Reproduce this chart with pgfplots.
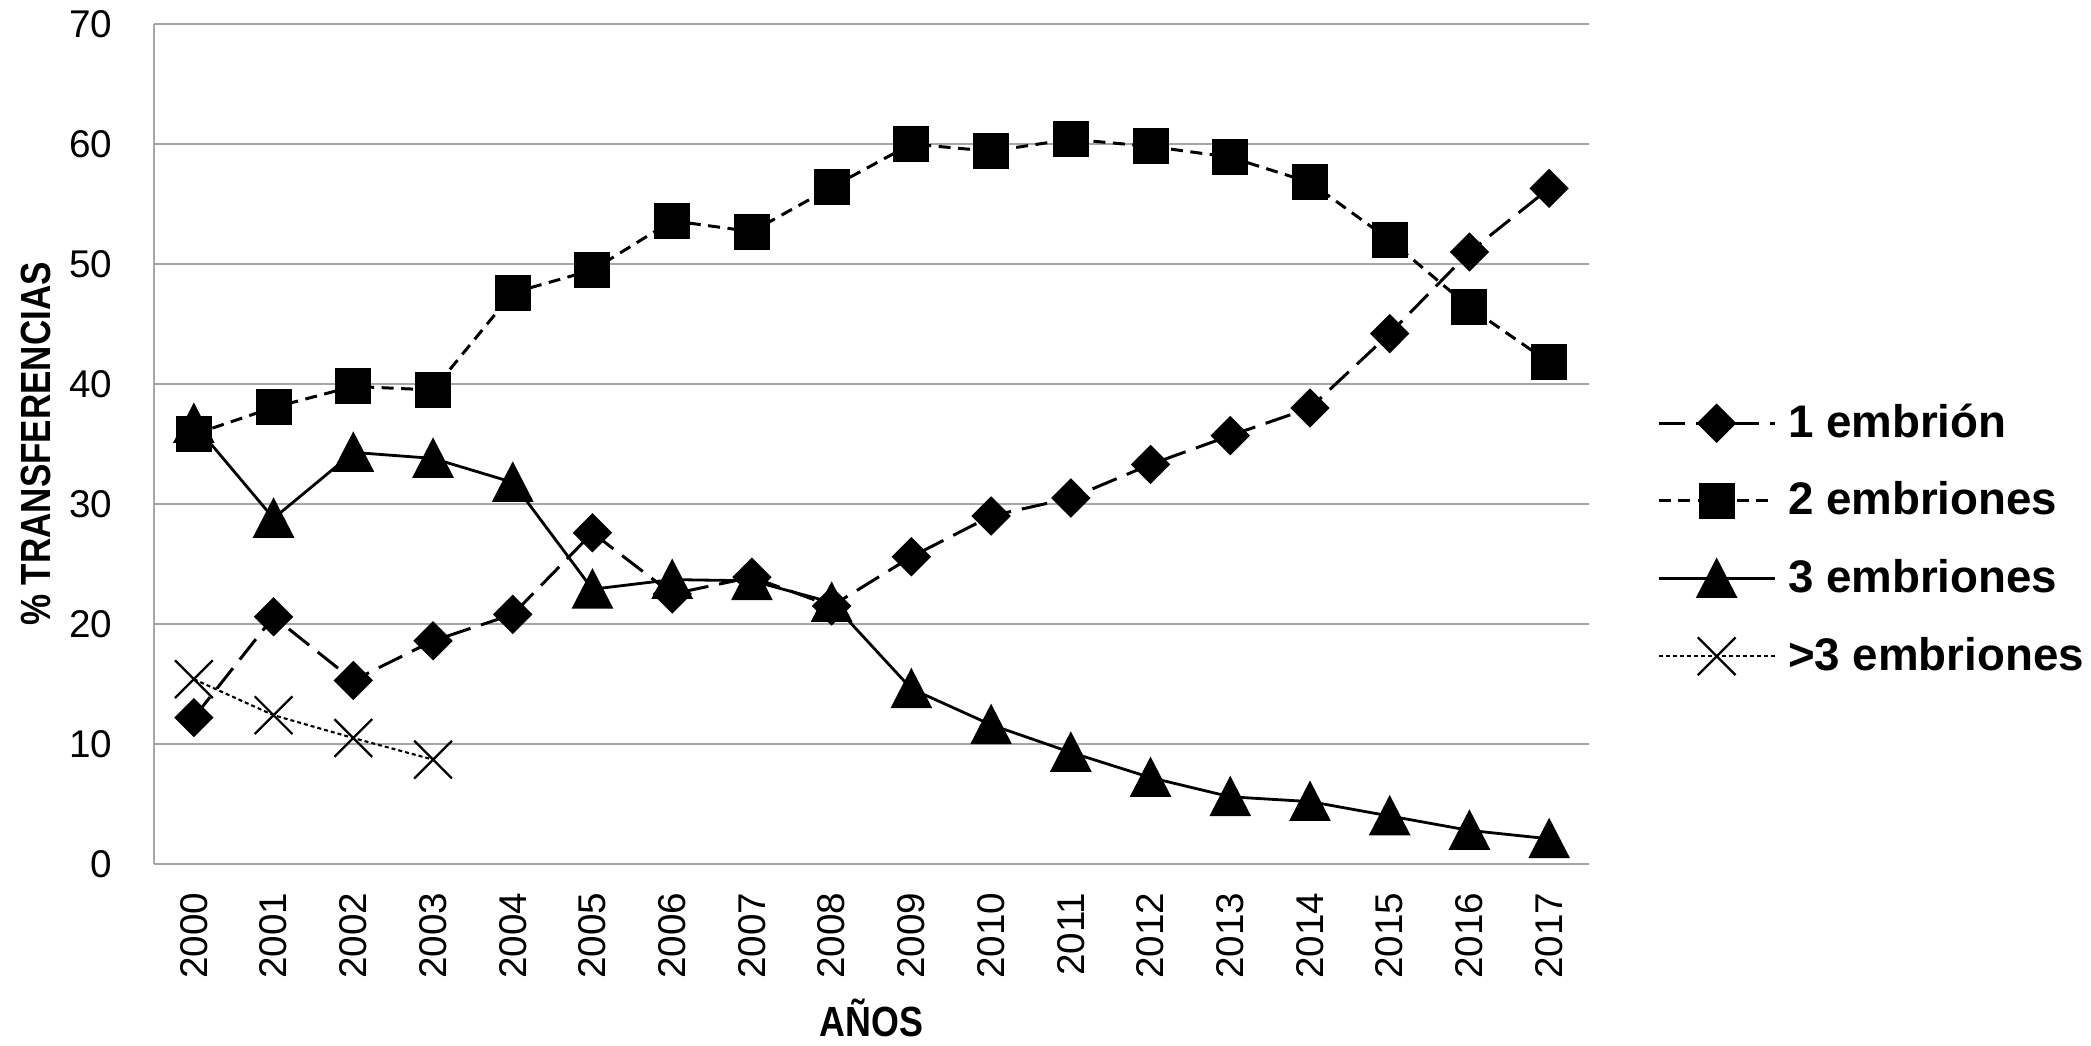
\documentclass[border=0pt]{standalone}
\usepackage{fontspec}
\setmainfont{Liberation Sans}
\usepackage{graphicx}
\usepackage{pgfplots}
\pgfplotsset{compat=1.18}
\definecolor{gridgray}{RGB}{166,166,166}
\begin{document}
\begin{tikzpicture}
\useasboundingbox (-15.4mm,-18.1mm) rectangle (193.7mm,86.4mm);
\begin{axis}[
  at={(0,0)}, anchor=south west,
  scale only axis, width=143.5mm, height=84.0mm,
  xmin=1999.5, xmax=2017.5, ymin=0, ymax=70,
  xtick={2000,...,2017}, ytick={0,10,...,70},
  axis x line*=bottom, axis y line*=left,
  axis line style={draw=gridgray, line width=0.6pt, -},
  ymajorgrids, grid style={draw=gridgray, line width=0.6pt},
  major tick length=0pt,
  clip=false,
  /pgf/number format/assume math mode=true,
  /pgf/number format/1000 sep={},
  ticklabel style={font=\fontsize{11}{13}\selectfont, inner sep=0pt},
  xticklabel style={rotate=90, anchor=east},
  xticklabel shift=2.8mm,
  yticklabel shift=4.1mm,
  xlabel={\scalebox{0.85}[1]{AÑOS}},
  ylabel={\scalebox{0.83}[1]{\% TRANSFERENCIAS}},
  every axis x label/.style={at={(axis description cs:0.5,-0.183)}, anchor=center, inner sep=0pt, font=\fontsize{12}{14}\selectfont\bfseries},
  every axis y label/.style={at={(axis description cs:-0.082,0.5)}, rotate=90, anchor=center, inner sep=0pt, font=\fontsize{12}{14}\selectfont\bfseries},
  legend cell align=left,
  legend style={at={(axis description cs:1.047,0.386)}, anchor=west, draw=none, fill=none, inner sep=0pt,
    font=\fontsize{13}{15}\selectfont\bfseries, row sep=8.1pt,
    nodes={inner sep=0pt, text height=11pt, text depth=3pt},
    /tikz/every odd column/.style={column sep=1.2mm}},
  legend image code/.code={\draw[mark repeat=2, mark phase=2, #1] plot coordinates {(0mm,0mm) (5.8mm,0mm) (11.6mm,0mm)};},
]
\addplot[black, line width=0.85pt, dash pattern=on 2.6mm off 1.1mm, mark=diamond*, mark size=5pt, mark options={solid, xscale=1.333}] coordinates {
(2000,12.2) (2001,20.6) (2002,15.3) (2003,18.6) (2004,20.8) (2005,27.6) (2006,22.5) (2007,23.9) (2008,21.5)
(2009,25.6) (2010,29.0) (2011,30.5) (2012,33.3) (2013,35.7) (2014,38.0) (2015,44.2) (2016,51.0) (2017,56.3)};
\addlegendentry{1 embrión}
\addplot[black, line width=0.85pt, dash pattern=on 1.2mm off 0.75mm, mark=square*, mark size=4.7pt, mark options={solid}] coordinates {
(2000,35.8) (2001,38.05) (2002,39.8) (2003,39.5) (2004,47.6) (2005,49.5) (2006,53.6) (2007,52.7) (2008,56.4)
(2009,60.0) (2010,59.4) (2011,60.4) (2012,59.8) (2013,58.9) (2014,56.8) (2015,52.0) (2016,46.4) (2017,41.8)};
\addlegendentry{2 embriones}
\addplot[black, line width=0.8pt, solid, mark=triangle*, mark size=6.1pt, mark options={solid, yshift=-1.7pt, yscale=1.12}] coordinates {
(2000,36.7) (2001,28.8) (2002,34.3) (2003,33.8) (2004,31.8) (2005,22.9) (2006,23.7) (2007,23.6) (2008,21.8)
(2009,14.6) (2010,11.6) (2011,9.3) (2012,7.2) (2013,5.6) (2014,5.2) (2015,4.0) (2016,2.8) (2017,2.1)};
\addlegendentry{3 embriones}
\addplot[black, line width=0.6pt, dash pattern=on 0.4mm off 0.3mm, mark=x, mark size=7.6pt, mark options={solid, line width=0.65pt}] coordinates {
(2000,15.4) (2001,12.4) (2002,10.5) (2003,8.7)};
\addlegendentry{>3 embriones}
\end{axis}
\end{tikzpicture}
\end{document}
